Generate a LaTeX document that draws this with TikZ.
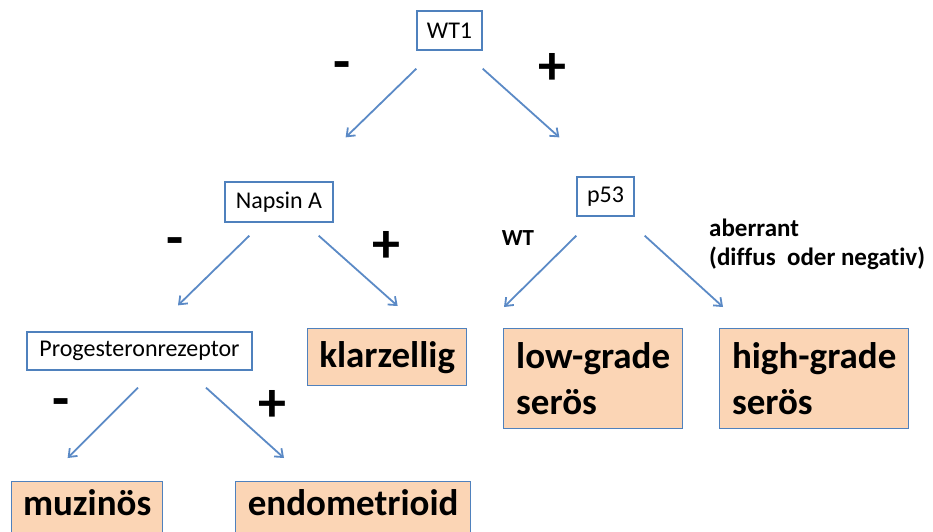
\documentclass[tikz,border=0pt]{standalone}
\usepackage{fontspec}
\setmainfont{Carlito}[Ligatures=NoCommon]
\usetikzlibrary{arrows.meta}

\definecolor{boxblue}{HTML}{4F81BD}
\definecolor{arrowblue}{HTML}{5B8AC6}
\definecolor{peach}{HTML}{FBD5B5}

\tikzset{
  marker/.style={draw=boxblue, line width=1.3pt, fill=white, inner sep=0pt,
    font=\fontsize{24}{28}\selectfont},
  tumor/.style={draw=boxblue, line width=1.3pt, fill=peach, inner sep=0pt,
    align=left, anchor=north west, font=\fontsize{37}{46}\bfseries\selectfont},
  sign/.style={font=\fontsize{56}{56}\bfseries\selectfont},
  arr/.style={-{Straight Barb[length=7pt,width=11pt]}, draw=arrowblue, line width=1.8pt}
}

\begin{document}
\begin{tikzpicture}[x=1pt, y=-1pt]
    \useasboundingbox (0,0) rectangle (933,531);
    \clip (0,0) rectangle (933,531);
    % markers
    \node[marker, minimum width=65, minimum height=39] (wt1) at (449.5,30.5) {WT1};
    \node[marker, minimum width=108, minimum height=40] (napsin) at (279,202) {Napsin A};
    \node[marker, minimum width=57, minimum height=39] (p53) at (605.5,196.5) {p53};
    \node[marker, minimum width=225, minimum height=38] (prog) at (139.5,351) {Progesteronrezeptor};
    % tumour types
    \node[tumor, minimum width=159, minimum height=57] (klar) at (307,328) {klarzellig};
    \node[tumor, minimum width=179, minimum height=100] (low) at (503,328) {low-grade\\serös};
    \node[tumor, minimum width=189, minimum height=100] (high) at (719,328) {high-grade\\serös};
    \node[tumor, minimum width=151, inner ysep=7pt, text height=27pt, text depth=30pt] (muz) at (11,481) {muzinös};
    \node[tumor, minimum width=235, inner ysep=7pt, text height=27pt, text depth=30pt] (endo) at (235,481) {endometrioid};
    % arrows
    \draw[arr] ([shift={(0,18)}]wt1.south west) -- ([shift={(12,-44)}]napsin.north east);
    \draw[arr] ([shift={(0,18)}]wt1.south east) -- ([shift={(-17,-39)}]p53.north west);
    \draw[arr] ([shift={(25,13)}]napsin.south west) -- ([shift={(38.5,-26)}]prog.north);
    \draw[arr] ([shift={(-15,13)}]napsin.south east) -- ([shift={(10.5,-22)}]klar.north);
    \draw[arr] ([shift={(0,19)}]p53.south west) -- ([shift={(1,-21)}]low.north west);
    \draw[arr] ([shift={(10,19)}]p53.south east) -- ([shift={(4,-21)}]high.north west);
    \draw[arr] ([shift={(-1.5,17)}]prog.south) -- ([shift={(-19.5,-23)}]muz.north);
    \draw[arr] ([shift={(66.5,17)}]prog.south) -- ([shift={(49,-23)}]endo.north west);
    % signs
    \node[sign] (wtneg) at (342,71) {-};
    \node[sign] (wtpos) at (552,69) {+};
    \node[sign] (napneg) at (175,247) {-};
    \node[sign] (nappos) at (386,247) {+};
    \node[sign] (prneg) at (61,408) {-};
    \node[sign] (prpos) at (272,406) {+};
    \node[font=\fontsize{23}{27}\bfseries\selectfont] (wt) at (518,238) {WT};
    \node[font=\fontsize{25}{29}\bfseries\selectfont, align=left, anchor=base west, inner sep=0pt]
      (aber) at (709,265) {aberrant\\(diffus\ \ oder negativ)};
\end{tikzpicture}
\end{document}
